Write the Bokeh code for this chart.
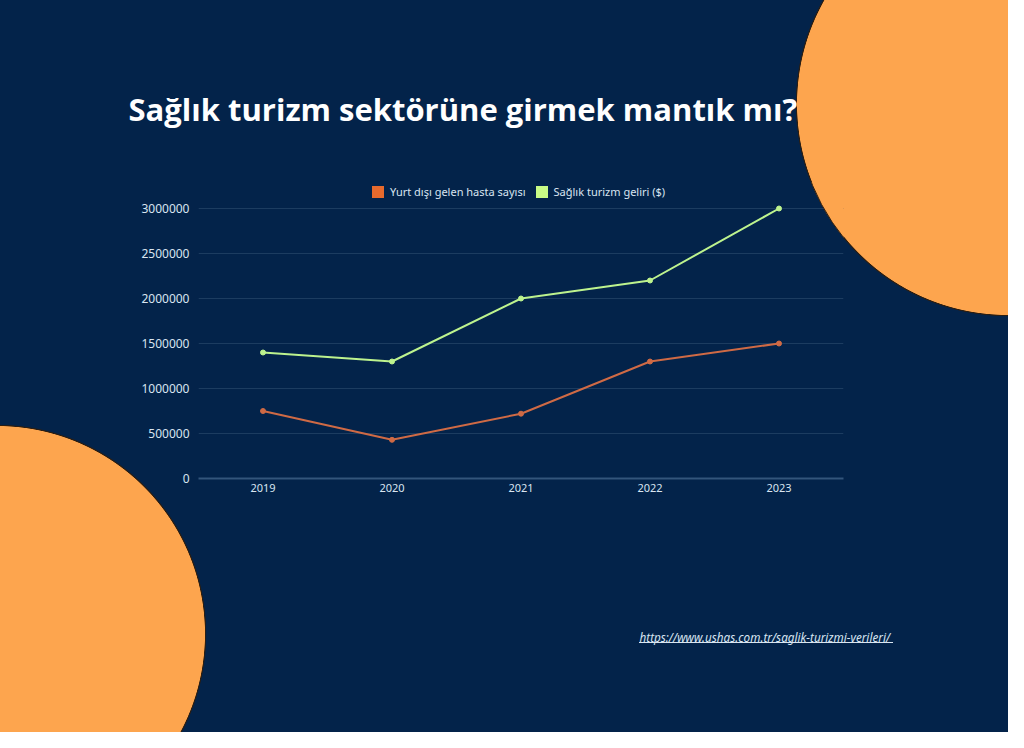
from bokeh.plotting import figure
from bokeh.models import (FactorRange, Range1d, FixedTicker, NumeralTickFormatter,
                          Legend, LegendItem, Title)
from bokeh.embed import file_html
from bokeh.resources import INLINE

# ---------------- data ----------------
years = ["2019", "2020", "2021", "2022", "2023"]
patients = [750000, 430000, 720000, 1300000, 1500000]       # Yurt dışı gelen hasta sayısı
revenue = [1400000, 1300000, 2000000, 2200000, 3000000]      # Sağlık turizm geliri ($)
y_ticks = [0, 500000, 1000000, 1500000, 2000000, 2500000, 3000000]
series_names = ["Yurt dışı gelen hasta sayısı", "Sağlık turizm geliri ($)"]
title_text = "Sağlık turizm sektörüne girmek mantık mı?"
source_text = "https://www.ushas.com.tr/saglik-turizmi-verileri/"

# ---------------- style ----------------
BG = "#03234a"
ORANGE_LINE = "#cf6a45"
ORANGE_SW = "#e76a2d"
GREEN_LINE = "#bdf38e"
GREEN_SW = "#c8fb86"
CIRCLE = "#fda54e"
RING = "#2a1e14"
TEXT = "#d9e5f1"
FONT = "Noto Sans"

# page background with the two decorative discs and the source underline
bg_css = (
    f"linear-gradient({TEXT}, {TEXT}) 639px 642px / 254px 1px no-repeat, "
    f"radial-gradient(circle at 1008px 104px, {CIRCLE} 0px, {CIRCLE} 210.6px, {RING} 211.3px, "
    f"{RING} 211.8px, rgba(3,35,74,0) 212.6px) no-repeat, "
    f"radial-gradient(circle at -3px 634px, {CIRCLE} 0px, {CIRCLE} 207.6px, {RING} 208.3px, "
    f"{RING} 208.8px, rgba(3,35,74,0) 209.6px) no-repeat, "
    f"{BG}"
)

p = figure(width=1008, height=732,
           x_range=FactorRange(*years), y_range=Range1d(0, 3288889),
           output_backend="svg", toolbar_location=None,
           min_border_left=198, min_border_right=165,
           min_border_top=182, min_border_bottom=254,
           background_fill_alpha=0, border_fill_alpha=0,
           outline_line_color=None,
           styles={"background": bg_css})

# axes & grid
p.yaxis.ticker = FixedTicker(ticks=y_ticks)
p.yaxis.formatter = NumeralTickFormatter(format="0")
p.yaxis.axis_line_color = None
p.yaxis.major_tick_line_color = None
p.yaxis.minor_tick_line_color = None
p.yaxis.major_tick_out = 0
p.yaxis.major_label_standoff = 9
p.yaxis.major_label_text_color = TEXT
p.yaxis.major_label_text_font = FONT
p.yaxis.major_label_text_font_size = "12px"

p.xaxis.axis_line_color = "#33557b"
p.xaxis.axis_line_width = 2
p.xaxis.major_tick_line_color = None
p.xaxis.minor_tick_line_color = None
p.xaxis.major_tick_out = 0
p.xaxis.major_label_standoff = 5
p.xaxis.major_label_text_color = TEXT
p.xaxis.major_label_text_font = FONT
p.xaxis.major_label_text_font_size = "11px"

p.xgrid.grid_line_color = None
p.ygrid.grid_line_color = "#1c3c60"
p.ygrid.grid_line_width = 1

# part of the top-right disc that lies over the plot frame (covers grid lines)
p.circle(x=[(1016 - 206) / 129], y=[(486 - 112) / 90 * 1e6], radius=212,
         radius_units="screen", fill_color=CIRCLE, line_color=RING, line_width=1)

# series
p.line(years, patients, line_color=ORANGE_LINE, line_width=2)
p.scatter(years, patients, size=5, color=ORANGE_LINE)
p.line(years, revenue, line_color=GREEN_LINE, line_width=2)
p.scatter(years, revenue, size=5, color=GREEN_LINE)

# legend swatches (zero-width bars built on the series data, used only for the legend)
sw1 = p.vbar(x=years, top=patients, width=0, fill_color=ORANGE_SW, line_color=None)
sw2 = p.vbar(x=years, top=revenue, width=0, fill_color=GREEN_SW, line_color=None)
legend = Legend(items=[LegendItem(label=series_names[0], renderers=[sw1]),
                       LegendItem(label=series_names[1], renderers=[sw2])],
                orientation="horizontal", location=(172, 279),
                glyph_width=15, glyph_height=15, label_height=15,
                label_standoff=5, spacing=8, padding=0, margin=0,
                border_line_color=None, background_fill_alpha=0,
                label_text_color=TEXT, label_text_font=FONT,
                label_text_font_size="11px")
p.add_layout(legend)

# title
p.title.text = title_text
p.title.align = "left"
p.title.offset = -70
p.title.standoff = 105
p.title.text_color = "white"
p.title.text_font = "Open Sans"
p.title.text_font_style = "bold"
p.title.text_font_size = "31px"

# source (a blank spacer title pushes it down the bottom border)
p.add_layout(Title(text=" ", standoff=114, text_font=FONT, text_font_size="11.7px"), "below")
p.add_layout(Title(text=source_text, align="left", offset=441, standoff=0,
                   text_color=TEXT, text_font=FONT, text_font_style="italic",
                   text_font_size="11.7px"), "below")

open("out.html", "w").write(file_html(p, INLINE))
